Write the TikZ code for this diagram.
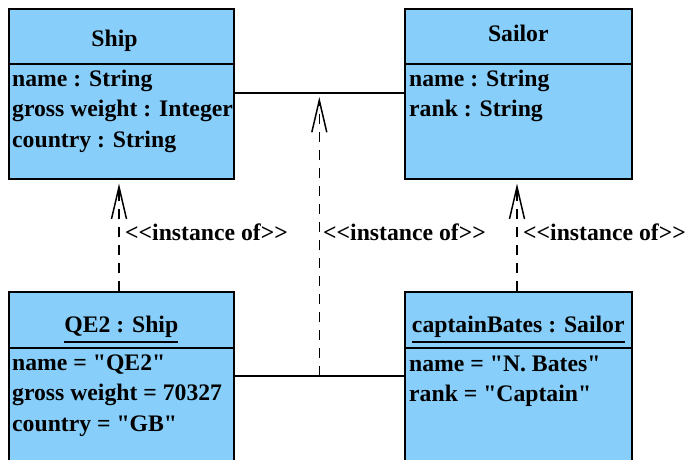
\documentclass[tikz,border=0pt]{standalone}
\usepackage{fontspec}
\setmainfont{Liberation Serif}[Ligatures=TeXOff]
\usepackage{xcolor}
\usepackage{tikz}
\usetikzlibrary{arrows.meta}
\definecolor{classblue}{RGB}{135,206,250}
\tikzset{
  classbox/.style={draw,line width=1.6pt,fill=classblue,anchor=north west,minimum height=170pt,inner sep=0pt},
  uml/.style={inner sep=0pt,font=\fontsize{23.7}{30}\selectfont\bfseries},
  attr/.style={uml,anchor=base west},
  title/.style={uml,anchor=base},
  instof/.style={line width=1.5pt,dash pattern=on 10pt off 8pt,-{Straight Barb[length=32pt,width=15pt]},shorten >=4pt},
}
\begin{document}
\begin{tikzpicture}[x=1pt,y=-1pt]
\useasboundingbox(0,0)rectangle(689,460);
% classes
\node[classbox,minimum width=225pt](ship)at(8,8){};
\draw[line width=1.6pt](ship.west|-0,64)--(ship.east|-0,64);
\node[title](shiptitle)at(114.5,47){Ship};
\node[attr](shipname)at(12,87){name : String};
\node[attr](shipweight)at(12,117){gross weight : Integer};
\node[attr](shipcountry)at(12,147){country : String};
\node[classbox,minimum width=227pt](sailor)at(404,8){};
\draw[line width=1.6pt](sailor.west|-0,64)--(sailor.east|-0,64);
\node[title](sailortitle)at(sailor.north|-0,42){Sailor};
\node[attr](sailorname)at(409,87){name : String};
\node[attr](sailorrank)at(409,117){rank : String};
% objects
\node[classbox,minimum width=225pt](qe)at(8,291){};
\draw[line width=1.6pt](qe.west|-0,348)--(qe.east|-0,348);
\node[title](qetitle)at(qe.north|-0,332){QE2 : Ship};
\draw[line width=1.6pt]([yshift=-10pt]qetitle.base west)--([yshift=-10pt]qetitle.base east);
\node[attr](qename)at(12,370){name = "QE2"};
\node[attr](qeweight)at(12,400){gross weight = 70327};
\node[attr](qecountry)at(12,431){country = "GB"};
\node[classbox,minimum width=227pt](bates)at(404,291){};
\draw[line width=1.6pt](bates.west|-0,348)--(bates.east|-0,348);
\node[title](batestitle)at(bates.north|-0,332){captainBates : Sailor};
\draw[line width=1.6pt]([yshift=-10pt]batestitle.base west)--([yshift=-10pt]batestitle.base east);
\node[attr](batesname)at(409,371){name = "N. Bates"};
\node[attr](batesrank)at(409,401){rank = "Captain"};
% association and link
\draw[line width=1.5pt](ship.east|-0,93)--coordinate[pos=0.5](assocmid)(sailor.west|-0,93);
\draw[line width=1.5pt](qe.east|-0,376)--coordinate[pos=0.5](linkmid)(bates.west|-0,376);
% instance of
\draw[instof](qe.north-|119,0)--(ship.south-|119,0);
\draw[instof](bates.north-|517,0)--(sailor.south-|517,0);
\draw[instof](linkmid)--(assocmid);
\node[attr](lblship)at(125,240){<<instance of>>};
\node[attr](lbllink)at(323,240){<<instance of>>};
\node[attr](lblsailor)at(523,240){<<instance of>>};
\end{tikzpicture}
\end{document}
